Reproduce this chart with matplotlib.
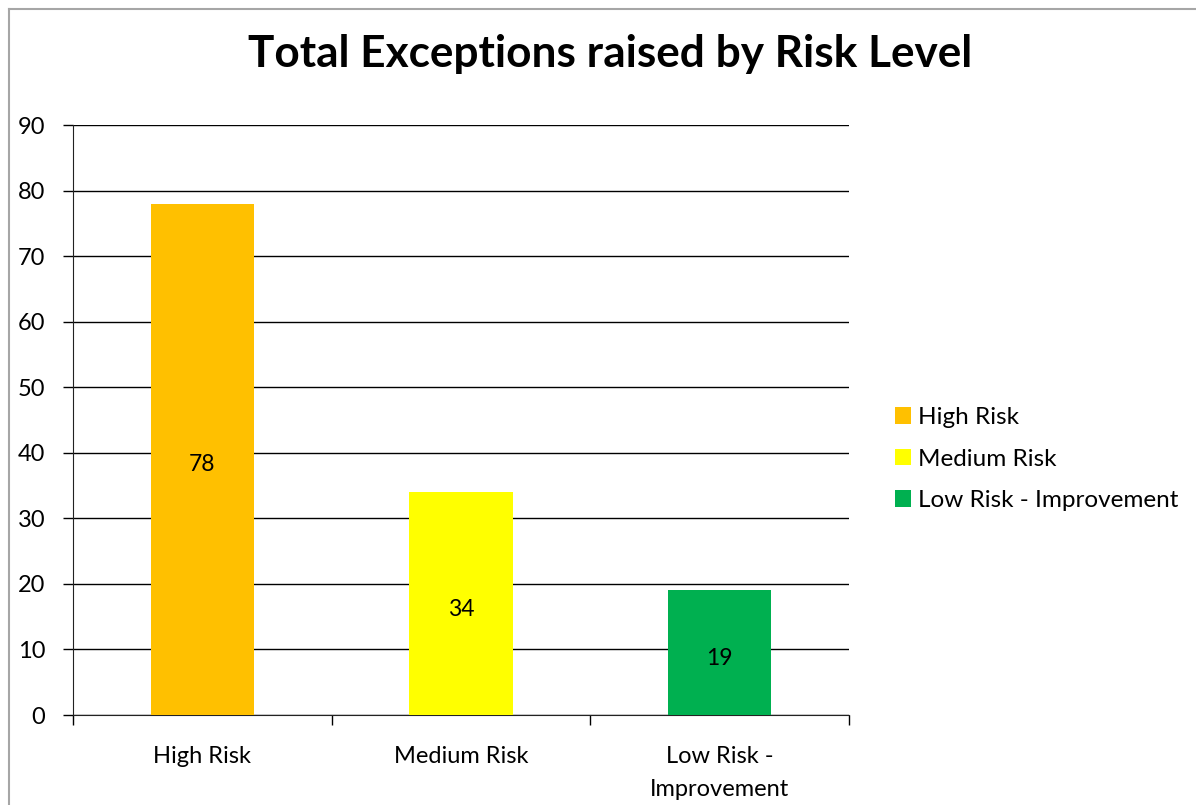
import matplotlib
matplotlib.use("Agg")
import matplotlib.pyplot as plt
from matplotlib.lines import Line2D
from matplotlib.patches import Patch

categories = ["High Risk", "Medium Risk", "Low Risk -\nImprovement"]
legend_labels = ["High Risk", "Medium Risk", "Low Risk - Improvement"]
values = [78, 34, 19]
colors = ["#FFC000", "#FFFF00", "#00B050"]
yticks = [0, 10, 20, 30, 40, 50, 60, 70, 80, 90]
title = "Total Exceptions raised by Risk Level"

plt.rcParams['font.family'] = ['Lato', 'DejaVu Sans']

fig = plt.figure(figsize=(11.96, 8.05), dpi=100)
ax = fig.add_axes([73/1196, 1-715/805, (849-73)/1196, (715-125)/805])

x = list(range(len(categories)))
bars = ax.bar(x, values, width=0.4, color=colors, zorder=3)
for xi, v in zip(x, values):
    ax.annotate(str(v), (xi, v/2), xytext=(0, -4), textcoords='offset points',
                ha='center', va='center', fontsize=16.5, zorder=4)

ax.set_xlim(-0.5, len(categories)-0.5)
ax.set_ylim(0, 90)
ax.set_yticks(yticks)
ax.yaxis.grid(True, color='black', linewidth=1.0, zorder=0)
ax.set_axisbelow(True)
for s in ['top', 'right']:
    ax.spines[s].set_visible(False)
ax.spines['left'].set_color('#222222')
ax.spines['bottom'].set_color('#222222')
ax.tick_params(axis='y', direction='out', length=7, width=1, labelsize=17, pad=13)
ax.set_xticks(x)
ax.set_xticklabels(categories, fontsize=17, linespacing=1.75)
ax.tick_params(axis='x', which='major', length=0, pad=22)
ax.set_xticks([i - 0.5 for i in range(len(categories)+1)], minor=True)
ax.tick_params(axis='x', which='minor', direction='out', length=7, width=1)
for lbl in ax.get_xticklabels():
    lbl.set_verticalalignment('top')

fig.text(610/1196, 1-54/805, title, ha='center', va='center', fontsize=31.8, fontweight='bold')

handles = [Patch(facecolor=c, edgecolor='none') for c in colors]
fig.legend(handles, legend_labels, loc='center left', bbox_to_anchor=(895/1196, 1-459/805),
           frameon=False, fontsize=17.5, handlelength=0.66, handleheight=0.66,
           handletextpad=0.3, labelspacing=0.84, borderpad=0, borderaxespad=0)

# chart-area border (top and left visible)
fig.add_artist(Line2D([9/1196, 1], [1-9/805, 1-9/805], color='#A6A6A6', linewidth=1.5, transform=fig.transFigure))
fig.add_artist(Line2D([9/1196, 9/1196], [0, 1-9/805], color='#A6A6A6', linewidth=1.5, transform=fig.transFigure))

fig.savefig("out.png", dpi=100)
